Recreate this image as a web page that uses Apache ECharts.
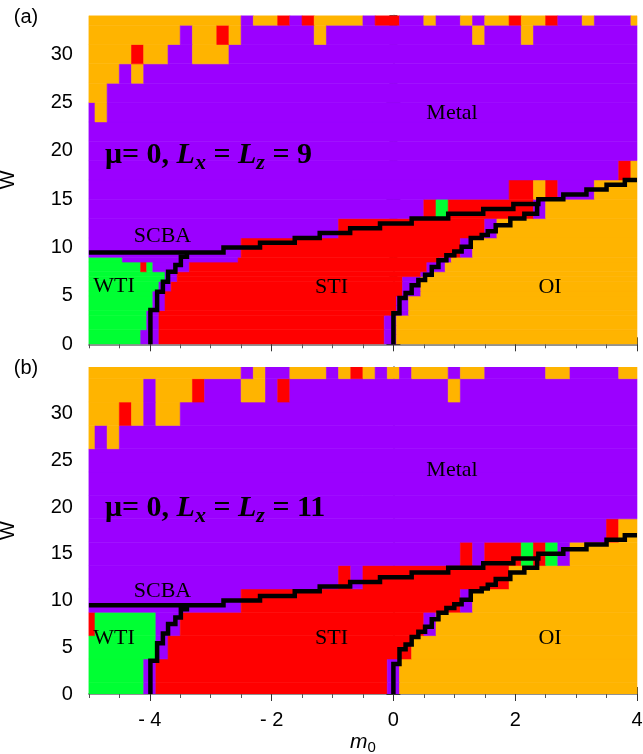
<!DOCTYPE html>
<html><head><meta charset="utf-8">
<script src="https://cdn.jsdelivr.net/npm/echarts@6/dist/echarts.min.js"></script>
<style>html,body{margin:0;padding:0;background:#fff}#c{width:643px;height:754px}</style>
</head><body><div id="c"></div>
<script>
// ---------------- data ----------------
const phaseNames = ['M', 'R', 'O', 'G'];            // Metal, STI, OI, WTI
const phaseColors = ['#9b00ff', '#ff0000', '#ffb400', '#00ff33'];
const xTickLabels = [-4, -2, 0, 2, 4];
const yTickLabels = [0, 5, 10, 15, 20, 25, 30];

// panel (a): mu = 0, Lx = Lz = 9
const fineStepA = 0.1;
const fineEdgesA = [0, 1.5, 3, 3.5, 5, 5.5, 6.5, 7, 7.5, 8.5, 9];
const fineRowsA = [
  'G9M3R37M2O40',
  'G10M2R37M2O40',
  'G10M2R39M2O38',
  'G11M2R38M2O38',
  'G11M2R39M3O36',
  'G12M2R38M3O36',
  'G13M2R37M3O36',
  'G13M2R40M2O34',
  'G9R1G1M6R39M3O32',
  'G6M19R33M2O31'
];
const coarseStep = 0.2;
const coarseEdgesA = [9, 11, 13, 15, 17, 19, 21, 23, 25, 27, 29, 31, 33, 34];
const coarseRowsA = [
  'M13R18M1O14',
  'M21R12M1O12',
  'M28R1G1R7M1O8',
  'M35R2O1R1M3O4',
  'M44R1O1',
  'M46',
  'M46',
  'M1O1M44',
  'O2M44',
  'O3M1O1M41',
  'O4R1O2M2O3M34',
  'O8M1O2R1O1M6O1M12O1M3O1M9',
  'O13M1O2R1M1R1O4M1R2M2O1M2O1M1O2R1O2R1M2O1M3O1'
];

// panel (b): mu = 0, Lx = Lz = 11
const coarseEdgesB = [0, 1.25, 3.75, 6.25, 8.75, 11.25, 13.75, 16.25, 18.75, 21.25, 23.75, 26.25, 28.75, 31.25, 33.75, 35];
const coarseRowsB = [
  'G5M1R19M1O20',
  'G5M1R19M1O20',
  'G6M1R20O19',
  'R1G5M2R20M1O17',
  'M13R18M1O14',
  'M21R1M1R12O11',
  'M31R1M1R3G1R1G1M1O6',
  'M43R1O2',
  'M46',
  'M46',
  'M46',
  'O1M1O1M43',
  'O3R1O1M1O2M38',
  'O5M1O3R1M3O2M1R1M13O1M15',
  'O13M1O1M2O3M1O1R1O1M1O1M1O3M1O2M5O2M4O2'
];

// SCBA phase boundaries (black staircase lines)
const scbaAx = [-5, -2.79, -2.19, -1.62, -1.21, -0.71, -0.22, 0.30, 0.90, 1.475, 1.97, 2.38, 2.79, 3.17, 3.50, 3.80, 4.0];
const scbaAw = [9.5, 10, 10.5, 11, 11.5, 12, 12.5, 13, 13.5, 14, 14.5, 15, 15.5, 16, 16.5, 17, 17];
const scbaBx = [-3.99, -3.88, -3.785, -3.70, -3.58, -3.49, -3.39, -3.39];
const scbaBw = [0, 3.55, 5.44, 6.47, 7.5, 8.2, 9.06, 9.5];
const scbaCx = [0.0, 0.1, 0.2, 0.3, 0.41, 0.52, 0.63, 0.74, 0.87, 1.0, 1.12, 1.27, 1.45, 1.55, 1.68, 1.92, 2.15, 2.36, 2.36];
const scbaCw = [0, 3.2, 4.8, 5.3, 6.1, 6.65, 7.2, 8.0, 8.7, 9.2, 9.6, 10.1, 11.0, 11.3, 11.7, 12.3, 13.0, 13.5, 14.5];

// ---------------- build ----------------
function buildCells(edges, rows, step, out) {
  rows.forEach((rle, i) => {
    let k = 0;
    rle.replace(/([A-Z])(\d+)/g, (_, p, n) => {
      n = +n;
      out.push([-5 + (k - 0.5) * step, -5 + (k + n - 0.5) * step, edges[i], edges[i + 1], phaseNames.indexOf(p)]);
      k += n;
      return '';
    });
  });
  return out;
}
const cellsA = buildCells(coarseEdgesA, coarseRowsA, coarseStep, buildCells(fineEdgesA, fineRowsA, fineStepA, []));
const cellsB = buildCells(coarseEdgesB, coarseRowsB, coarseStep, []);

function renderCell(params, api) {
  const a = api.coord([api.value(0), api.value(3)]);
  const b = api.coord([api.value(1), api.value(2)]);
  const cs = params.coordSys;
  const shape = echarts.graphic.clipRectByRect(
    { x: a[0], y: a[1], width: b[0] - a[0], height: b[1] - a[1] },
    { x: cs.x, y: cs.y, width: cs.width, height: cs.height });
  if (!shape) return;
  const c = phaseColors[api.value(4)];
  return { type: 'rect', shape, style: { fill: c, stroke: c, lineWidth: 0.6 } };
}

const FRAME = '#8c8c8c', TICK = '#555';
const sans = 'Liberation Sans', serif = 'Liberation Serif';

function xAxesFor(g, showLabels) {
  const base = { gridIndex: g, type: 'value', min: -5, max: 4, splitLine: { show: false } };
  const minor = (pos) => Object.assign({}, base, {
    position: pos, offset: 7, interval: 0.5,
    axisLine: { show: true, lineStyle: { color: FRAME, width: 1.6 } },
    axisTick: { show: true, inside: true, length: 4, lineStyle: { color: TICK } },
    axisLabel: { show: false }
  });
  const major = (pos, lab) => Object.assign({}, base, {
    position: pos, offset: 7,
    axisLine: { show: false },
    axisTick: { show: true, inside: true, length: 7, customValues: xTickLabels, lineStyle: { color: '#333' } },
    axisLabel: { show: lab, customValues: xTickLabels, margin: 9, fontSize: 20, color: '#000', fontFamily: sans,
      formatter: v => (v < 0 ? '- ' + (-v) : String(v)) }
  });
  return [minor('bottom'), major('bottom', showLabels), minor('top'), major('top', false)];
}
function yAxesFor(g, maxW) {
  const base = { gridIndex: g, type: 'value', min: 0, max: maxW, splitLine: { show: false } };
  const minor = (pos, off) => Object.assign({}, base, {
    position: pos, offset: off, interval: 1,
    axisLine: { show: true, lineStyle: { color: FRAME, width: 1.6 } },
    axisTick: { show: true, inside: true, length: 4, lineStyle: { color: TICK } },
    axisLabel: { show: false }
  });
  const major = (pos, off, lab) => Object.assign({}, base, {
    position: pos, offset: off,
    axisLine: { show: false },
    axisTick: { show: true, inside: true, length: 7, customValues: yTickLabels, lineStyle: { color: '#333' } },
    axisLabel: { show: lab, customValues: yTickLabels, margin: 6, fontSize: 20, color: '#000', fontFamily: sans },
    name: lab ? 'W' : '', nameLocation: 'middle', nameRotate: 90, nameGap: 60,
    nameTextStyle: { fontSize: 20, fontFamily: sans, color: '#000' }
  });
  return [minor('left', 10), major('left', 10, true), minor('right', 5.5), major('right', 5.5, false)];
}

function stepLine(g, step, xs, ws) {
  return {
    type: 'line', xAxisIndex: 4 * g, yAxisIndex: 4 * g, step, symbol: 'none', silent: true, z: 5,
    data: xs.map((x, i) => [x, ws[i]]),
    lineStyle: { color: '#000', width: 4.5, cap: 'butt', join: 'miter' }
  };
}
function panelSeries(g, cells) {
  return [
    { type: 'custom', xAxisIndex: 4 * g, yAxisIndex: 4 * g, data: cells, renderItem: renderCell,
      encode: { x: [0, 1], y: [2, 3] }, silent: true, z: 1, clip: true },
    stepLine(g, 'end', scbaAx, scbaAw),
    stepLine(g, 'start', scbaBx, scbaBw),
    stepLine(g, 'start', scbaCx, scbaCw)
  ];
}

function txt(text, x, y, size, family, opts) {
  return Object.assign({
    type: 'text', x, y, z: 100, silent: true,
    style: Object.assign({ text, fontSize: size, fontFamily: family, fill: '#000',
      align: 'center', verticalAlign: 'middle', textAlign: 'center', textVerticalAlign: 'middle' }, opts || {})
  });
}
function muText(L, y) {
  return {
    type: 'text', x: 105, y, z: 100, silent: true,
    style: {
      text: '{b|\u03bc= 0, }{i|L}{s|x}{b| = }{i|L}{s|z}{b| = ' + L + '}',
      align: 'left', verticalAlign: 'middle', textAlign: 'left', textVerticalAlign: 'middle',
      rich: {
        b: { fontSize: 30, fontWeight: 'bold', fontFamily: serif, lineHeight: 38, color: '#000' },
        i: { fontSize: 30, fontWeight: 'bold', fontStyle: 'italic', fontFamily: serif, lineHeight: 38, color: '#000' },
        s: { fontSize: 22, fontWeight: 'bold', fontStyle: 'italic', fontFamily: serif, lineHeight: 22, verticalAlign: 'bottom', color: '#000' }
      }
    }
  };
}

const option = {
  animation: false,
  grid: [
    { left: 88.9, top: 15.5, width: 548.1, height: 328.8, containLabel: false, outerBoundsMode: 'none' },
    { left: 88.9, top: 367, width: 548.1, height: 327, containLabel: false, outerBoundsMode: 'none' }
  ],
  xAxis: [...xAxesFor(0, false), ...xAxesFor(1, true)],
  yAxis: [...yAxesFor(0, 34), ...yAxesFor(1, 35)],
  series: [...panelSeries(0, cellsA), ...panelSeries(1, cellsB)],
  graphic: [
    txt('(a)', 26, 17, 20, sans),
    txt('(b)', 26, 368, 20, sans),
    txt('Metal', 452, 113, 22, serif), txt('Metal', 452, 470, 22, serif),
    txt('SCBA', 162.5, 236.5, 22, serif), txt('SCBA', 162.5, 591.5, 22, serif),
    txt('WTI', 114, 286.5, 22, serif), txt('WTI', 114, 638.5, 22, serif),
    txt('STI', 331.5, 287, 22, serif), txt('STI', 331.5, 638.5, 22, serif),
    txt('OI', 550, 287.5, 22, serif), txt('OI', 550, 638.5, 22, serif),
    muText('9', 155), muText('11', 508),
    {
      type: 'text', x: 363, y: 742, z: 100, silent: true,
      style: { text: '{m|m}{s|0}', align: 'center', verticalAlign: 'middle', textAlign: 'center', textVerticalAlign: 'middle',
        rich: { m: { fontSize: 21, fontStyle: 'italic', fontFamily: sans, lineHeight: 26, color: '#000' },
                s: { fontSize: 15, fontFamily: sans, lineHeight: 15, verticalAlign: 'bottom', color: '#000' } } }
    }
  ]
};
const chart = echarts.init(document.getElementById('c'), null, { renderer: 'canvas' });
chart.setOption(option);
</script></body></html>
